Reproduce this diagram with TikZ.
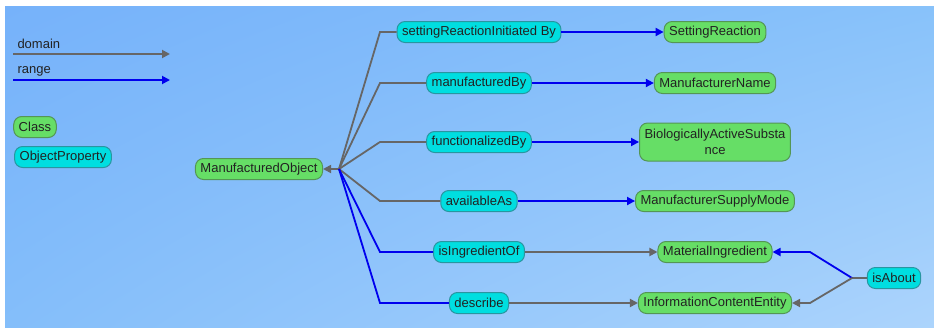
\documentclass[tikz,border=0pt]{standalone}
\usepackage{fontspec}
\setmainfont{Liberation Sans}
\usetikzlibrary{arrows.meta}
\usetikzlibrary{shadings}

\definecolor{bgtl}{RGB}{118,178,250}
\definecolor{bgtr}{RGB}{136,194,250}
\definecolor{bgbl}{RGB}{132,190,250}
\definecolor{bgbr}{RGB}{172,212,252}
\definecolor{classfill}{RGB}{102,222,102}
\definecolor{classborder}{RGB}{84,150,84}
\definecolor{propfill}{RGB}{0,222,224}
\definecolor{propborder}{RGB}{40,150,160}
\definecolor{txtgray}{RGB}{34,34,34}
\definecolor{domaingray}{RGB}{102,102,102}
\definecolor{rangeblue}{RGB}{0,0,238}

\begin{document}
\begin{tikzpicture}[x=1pt,y=-1pt]
  \fontsize{13}{16}\selectfont
  \useasboundingbox (0,0) rectangle (934,327);
  \shade[upper left=bgtl,upper right=bgtr,lower left=bgbl,lower right=bgbr]
    (5,6) rectangle (934,327);

  \tikzstyle{every node}=[rectangle,rounded corners=8pt,line width=1pt,text=txtgray,
                          inner xsep=5pt,inner ysep=2pt,minimum height=21pt]
  \tikzstyle{class}=[draw=classborder,fill=classfill]
  \tikzstyle{prop}=[draw=propborder,fill=propfill]
  \tikzstyle{domainline}=[draw=domaingray,line width=1.8pt]
  \tikzstyle{rangeline}=[draw=rangeblue,line width=1.8pt]
  \tikzset{>={Triangle[length=8pt,width=8pt]}}

%% legend
  \node[anchor=west,inner xsep=0pt] (domain-lbl) at (17,44) {domain};
  \node[anchor=west,inner xsep=0pt] (range-lbl)  at (17,71) {range};
  \coordinate (domain-a) at (13,54);  \coordinate (domain-b) at (170,54);
  \coordinate (range-a)  at (13,80);  \coordinate (range-b)  at (170,80);
  \draw[domainline,->] (domain-a) -- (domain-b);
  \draw[rangeline,->]  (range-a)  -- (range-b);
  \node[class] (lg-class) at (35,127) {Class};
  \node[prop]  (lg-prop)  at (63,157) {ObjectProperty};

%% classes
  \node[class] (MO) at (259,169) {ManufacturedObject};
  \foreach \nm/\txt/\yy in {SR/SettingReaction/32, MN/ManufacturerName/83,
                            MSM/ManufacturerSupplyMode/201, MI/MaterialIngredient/252,
                            ICE/InformationContentEntity/303}
    \node[class] (\nm) at (715,\yy) {\txt};
  \node[class,align=center,minimum height=38pt] (BAS) at (715,142)
    {BiologicallyActiveSubsta\\nce};

%% object properties
  \foreach \nm/\txt/\yy in {srib/settingReactionInitiated By/32, mby/manufacturedBy/83,
                            fby/functionalizedBy/142, aas/availableAs/201,
                            iio/isIngredientOf/252, dsc/describe/303}
    \node[prop] (\nm) at (479,\yy) {\txt};
  \node[prop] (isAbout) at (894,278) {isAbout};

%% draw connections
  \coordinate (hub)   at (339,169);
  \coordinate (bend)  at (380,0);
  \coordinate (hub2)  at (852,278);
  \coordinate (bend2) at (810,0);
  \draw[domainline,->] (hub) -- (MO.east);
  \foreach \p/\c in {srib/SR, mby/MN, fby/BAS, aas/MSM} {
    \draw[domainline] (hub) -- (bend |- \p.west) -- (\p.west);
    \draw[rangeline,->] (\p.east) -- (\c.west);
  };
  \foreach \p/\c in {iio/MI, dsc/ICE} {
    \draw[rangeline] (hub) -- (bend |- \p.west) -- (\p.west);
    \draw[domainline,->] (\p.east) -- (\c.west);
  };

%% isAbout
  \draw[domainline] (isAbout.west) -- (hub2);
  \draw[rangeline,->] (hub2) -- (bend2 |- MI.east) -- (MI.east);
  \draw[domainline,->] (hub2) -- (bend2 |- ICE.east) -- (ICE.east);
\end{tikzpicture}
\end{document}
